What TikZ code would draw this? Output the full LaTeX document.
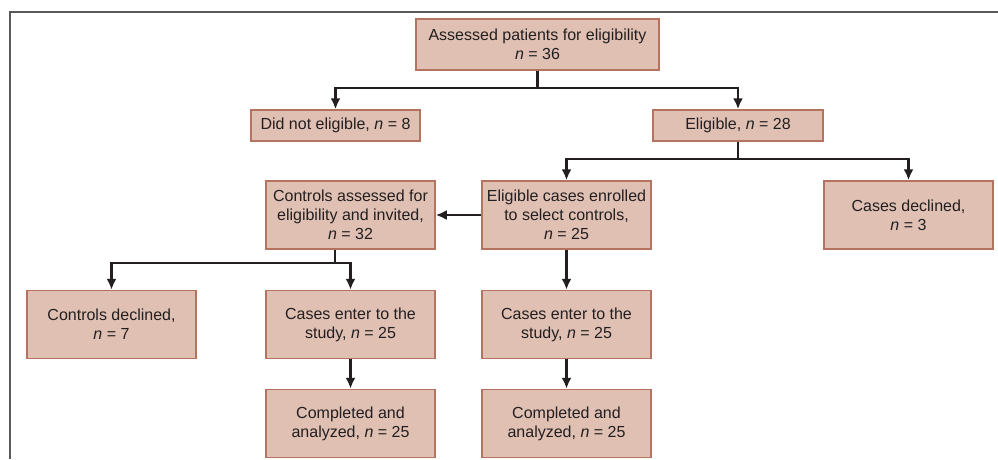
\documentclass[tikz,border=0pt]{standalone}
\usepackage{fontspec}
\setmainfont{Liberation Sans}
\usepackage{tikz}
\usetikzlibrary{arrows.meta,positioning,calc}
\definecolor{boxfill}{HTML}{DFC0B3}
\definecolor{boxline}{HTML}{B5735F}
\definecolor{ink}{HTML}{231F20}
\definecolor{framegray}{HTML}{5A5A5A}
\tikzset{
  fc/box/.style={draw=boxline, line width=1.5pt, fill=boxfill, text=ink, align=center, inner sep=2pt,
    minimum width=169pt, minimum height=68pt, font=\fontsize{16}{19}\selectfont},
  fc/thin/.style={fc/box, minimum height=31pt},
  fc/line/.style={draw=ink, line width=2.4pt},
  fc/arr/.style={fc/line, -{Latex[length=11pt,width=10pt]}},
  fc/frame/.style={draw=framegray, line width=2.2pt}
}
\begin{document}
\begin{tikzpicture}[x=1pt, y=-1pt]
\useasboundingbox (0,0) rectangle (998,459);
\draw[fc/frame] (998,12) -- (10,12) -- (10,459);

\node[fc/box, minimum width=243pt, minimum height=51pt] (assess) at (537.5,44.5) {Assessed patients for eligibility\\\textit{n} = 36};
\node[fc/thin] (noelig) at (335.5,125.5) {Did not eligible, \textit{n} = 8};
\node[fc/thin, minimum width=170pt] (elig) at (738,125.5) {Eligible, \textit{n} = 28};
\node[fc/box] (ctrlinv) at (350.5,215) {Controls assessed for\\eligibility and invited,\\\textit{n} = 32};
\node[fc/box] (enrol) at (566.5,215) {Eligible cases enrolled\\to select controls,\\\textit{n} = 25};
\node[fc/box] (casedecl) at (908.5,215) {Cases declined,\\\textit{n} = 3};
\node[fc/box] (ctrldecl) at (111.5,324.5) {Controls declined,\\\textit{n} = 7};
\node[fc/box] (enterL) at (350.5,324.5) {Cases enter to the\\study, \textit{n} = 25};
\node[fc/box] (enterR) at (566.5,324.5) {Cases enter to the\\study, \textit{n} = 25};
\node[fc/box] (doneL) at (350.5,423.5) {Completed and\\analyzed, \textit{n} = 25};
\node[fc/box] (doneR) at (566.5,423.5) {Completed and\\analyzed, \textit{n} = 25};

\coordinate (topfork) at (537.5,88);
\coordinate (eligfork) at (738,159);
\coordinate (ctrlfork) at (335,263);

\draw[fc/line] (assess.south) -- (topfork);
\draw[fc/arr] (topfork) -| (noelig.north);
\draw[fc/arr] (topfork) -| (elig.north);
\draw[fc/line] (elig.south) -- (eligfork);
\draw[fc/arr] (eligfork) -| (enrol.north);
\draw[fc/arr] (eligfork) -| (casedecl.north);
\draw[fc/arr] (enrol.west) -- (ctrlinv.east);
\draw[fc/line] (ctrlinv.south -| ctrlfork) -- (ctrlfork);
\draw[fc/arr] (ctrlfork) -| (ctrldecl.north);
\draw[fc/arr] (ctrlfork) -| (enterL.north);
\draw[fc/arr] (enrol.south) -- (enterR.north);
\draw[fc/arr] (enterL.south) -- (doneL.north);
\draw[fc/arr] (enterR.south) -- (doneR.north);
\end{tikzpicture}
\end{document}
